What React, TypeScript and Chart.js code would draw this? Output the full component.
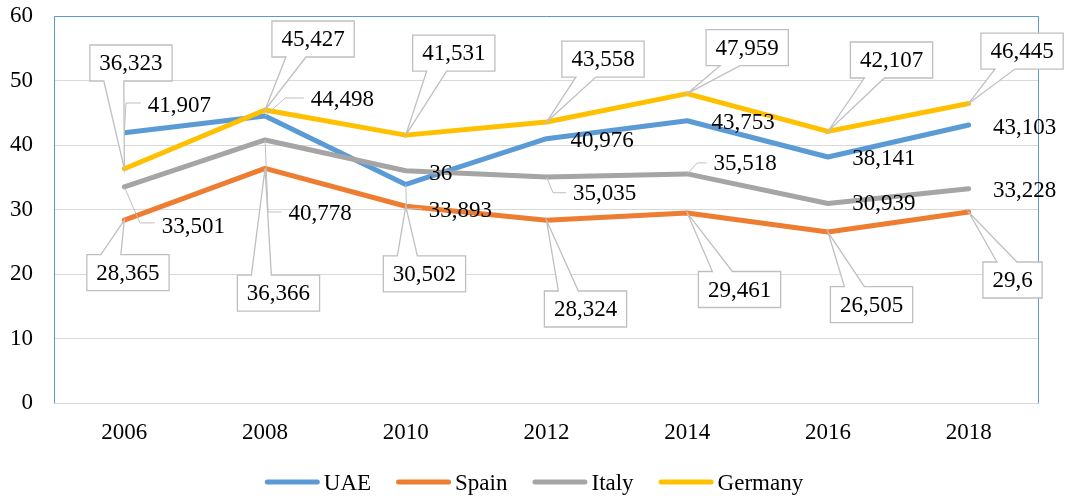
import React, { useEffect, useRef } from 'react';
import { Chart, registerables } from 'chart.js';

Chart.register(...registerables);

// ---- data ----
const years = ['2006', '2008', '2010', '2012', '2014', '2016', '2018'];
const uae = [41.907, 44.498, 33.893, 40.976, 43.753, 38.141, 43.103];
const spain = [28.365, 36.366, 30.502, 28.324, 29.461, 26.505, 29.6];
const italy = [33.501, 40.778, 36, 35.035, 35.518, 30.939, 33.228];
const germany = [36.323, 45.427, 41.531, 43.558, 47.959, 42.107, 46.445];
const seriesNames = ['UAE', 'Spain', 'Italy', 'Germany'];
const seriesColors = ['#5B9BD5', '#ED7D31', '#A5A5A5', '#FFC000'];
const yTicks = [0, 10, 20, 30, 40, 50, 60];

// ---- label layout (offsets relative to each point, styling only) ----
type Spec =
  | { k: 'plain'; dx: number; dy: number }
  | { k: 'lead'; ex: number; ey: number; dx: number; dy: number }
  | { k: 'box'; dx: number; dy: number };

const uaeLayout: Spec[] = [
  { k: 'lead', ex: 1.6, ey: -29.7, dx: 55, dy: -27.7 },
  { k: 'lead', ex: 20, ey: -18, dx: 77.4, dy: -17 },
  { k: 'lead', ex: 0.7, ey: 24, dx: 54.7, dy: 26 },
  { k: 'plain', dx: 55.5, dy: 1 },
  { k: 'plain', dx: 56, dy: 1 },
  { k: 'plain', dx: 56, dy: 1 },
  { k: 'plain', dx: 56, dy: 2 },
];
const spainLayout: Spec[] = [
  { k: 'box', dx: 3.6, dy: 52.5 },
  { k: 'box', dx: 13.4, dy: 124.6 },
  { k: 'box', dx: 18.7, dy: 67.7 },
  { k: 'box', dx: 39, dy: 88.7 },
  { k: 'box', dx: 52.3, dy: 76.5 },
  { k: 'box', dx: 43.6, dy: 72.5 },
  { k: 'box', dx: 43.9, dy: 67.9 },
];
const italyLayout: Spec[] = [
  { k: 'lead', ex: 15.6, ey: 36, dx: 69, dy: 39 },
  { k: 'lead', ex: 3, ey: 72, dx: 55, dy: 73 },
  { k: 'plain', dx: 35, dy: 2 },
  { k: 'lead', ex: 6.5, ey: 15.7, dx: 58, dy: 16 },
  { k: 'lead', ex: 10, ey: -11, dx: 58, dy: -11 },
  { k: 'plain', dx: 56, dy: 0 },
  { k: 'plain', dx: 56, dy: 1 },
];
const germanyLayout: Spec[] = [
  { k: 'box', dx: 6.6, dy: -105.7 },
  { k: 'box', dx: 48, dy: -71 },
  { k: 'box', dx: 48, dy: -82 },
  { k: 'box', dx: 56.5, dy: -63 },
  { k: 'box', dx: 60, dy: -46 },
  { k: 'box', dx: 63.6, dy: -71.4 },
  { k: 'box', dx: 53.4, dy: -52.4 },
];
const layouts = [uaeLayout, spainLayout, italyLayout, germanyLayout];

const FONT_FAMILY = '"Liberation Serif", "Times New Roman", serif';
const FONT_SIZE = 23;
const FONT = `${FONT_SIZE}px ${FONT_FAMILY}`;
const LEADER = '#BFBFBF';

const fmt = (v: number) => String(v).replace('.', ',');

const framePlugin = {
  id: 'frame',
  beforeDatasetsDraw(chart: any) {
    const { ctx, chartArea: a } = chart;
    const t = Math.round(a.top) + 0.5;
    const r = Math.round(a.right) - 0.5;
    const b = Math.round(a.bottom) + 0.5;
    const l = Math.round(a.left) + 0.5;
    ctx.save();
    ctx.strokeStyle = '#5B9BD5';
    ctx.lineWidth = 1;
    ctx.beginPath();
    ctx.moveTo(l, b);
    ctx.lineTo(l, t);
    ctx.lineTo(r, t);
    ctx.lineTo(r, b);
    ctx.stroke();
    ctx.strokeStyle = '#D9D9D9';
    ctx.beginPath();
    ctx.moveTo(l, b);
    ctx.lineTo(r, b);
    ctx.stroke();
    ctx.restore();
  },
};

const labelPlugin = {
  id: 'labels',
  afterDatasetsDraw(chart: any) {
    const { ctx } = chart;
    ctx.save();
    ctx.font = FONT;
    ctx.textAlign = 'center';
    ctx.textBaseline = 'middle';
    chart.data.datasets.forEach((ds: any, i: number) => {
      const meta = chart.getDatasetMeta(i);
      meta.data.forEach((pt: any, j: number) => {
        const spec = layouts[i][j];
        const text = fmt(ds.data[j]);
        const px = pt.x;
        const py = pt.y;
        const tw = ctx.measureText(text).width;
        const cx = px + spec.dx;
        const cy = py + spec.dy;
        ctx.lineWidth = 1;
        ctx.strokeStyle = LEADER;
        if (spec.k === 'lead') {
          const exx = px + spec.ex;
          const eyy = py + spec.ey;
          const endX = cx - tw / 2 - 7;
          ctx.beginPath();
          ctx.moveTo(px, py);
          ctx.lineTo(exx, eyy);
          ctx.lineTo(endX, eyy);
          ctx.stroke();
        } else if (spec.k === 'box') {
          const w = tw + 19;
          const h = 36;
          const L = cx - w / 2;
          const R = cx + w / 2;
          const T = cy - h / 2;
          const B = cy + h / 2;
          const w1 = L + 14;
          const w2 = L + 34;
          ctx.beginPath();
          if (py > B) {
            ctx.moveTo(L, T);
            ctx.lineTo(R, T);
            ctx.lineTo(R, B);
            ctx.lineTo(w2, B);
            ctx.lineTo(px, py);
            ctx.lineTo(w1, B);
            ctx.lineTo(L, B);
          } else {
            ctx.moveTo(L, T);
            ctx.lineTo(w1, T);
            ctx.lineTo(px, py);
            ctx.lineTo(w2, T);
            ctx.lineTo(R, T);
            ctx.lineTo(R, B);
            ctx.lineTo(L, B);
          }
          ctx.closePath();
          ctx.fillStyle = '#FFFFFF';
          ctx.fill();
          ctx.lineWidth = 1.3;
          ctx.stroke();
        }
        ctx.fillStyle = '#000000';
        ctx.fillText(text, cx, cy + 1);
      });
    });
    ctx.restore();
  },
};

const legendPlugin = {
  id: 'customLegend',
  afterDraw(chart: any) {
    const { ctx } = chart;
    ctx.save();
    ctx.font = FONT;
    ctx.textBaseline = 'middle';
    ctx.textAlign = 'left';
    const lineLen = 55;
    const gap = 4;
    const spacing = 25;
    const items = chart.data.datasets.map((ds: any) => ({
      label: ds.label,
      color: ds.borderColor,
      w: ctx.measureText(ds.label).width,
    }));
    const total =
      items.reduce((s: number, it: any) => s + lineLen + gap + it.w, 0) + spacing * (items.length - 1);
    let x = chart.width / 2 - total / 2;
    const y = chart.height - 15;
    items.forEach((it: any) => {
      ctx.strokeStyle = it.color;
      ctx.lineWidth = 5;
      ctx.lineCap = 'round';
      ctx.beginPath();
      ctx.moveTo(x + 2.5, y);
      ctx.lineTo(x + lineLen - 2.5, y);
      ctx.stroke();
      ctx.fillStyle = '#000000';
      ctx.fillText(it.label, x + lineLen + gap, y + 1.5);
      x += lineLen + gap + it.w + spacing;
    });
    ctx.restore();
  },
};

export default function App() {
  const ref = useRef<HTMLCanvasElement>(null);
  useEffect(() => {
    const canvas = ref.current;
    if (!canvas) return;
    const values = [uae, spain, italy, germany];
    const chart = new Chart(canvas, {
      type: 'line',
      data: {
        labels: years,
        datasets: values.map((vals, i) => ({
          label: seriesNames[i],
          data: vals,
          borderColor: seriesColors[i],
          backgroundColor: seriesColors[i],
          borderWidth: 5,
          pointRadius: 0,
          pointHoverRadius: 0,
          tension: 0,
          fill: false,
          borderCapStyle: 'round' as const,
          borderJoinStyle: 'round' as const,
          order: values.length - i,
        })),
      },
      options: {
        animation: false,
        responsive: true,
        maintainAspectRatio: false,
        layout: { padding: { left: 0, right: 29, top: 16, bottom: 0 } },
        plugins: {
          legend: { display: false },
          tooltip: { enabled: false },
        },
        scales: {
          x: {
            offset: true,
            grid: { display: false, drawTicks: false },
            border: { display: false },
            ticks: {
              color: '#000',
              font: { family: FONT_FAMILY, size: FONT_SIZE },
              padding: 16,
              maxRotation: 0,
            },
            afterFit: (s: any) => {
              s.height = 94;
              s.paddingLeft = 0;
              s.paddingRight = 0;
            },
          },
          y: {
            min: 0,
            max: 60,
            grid: { color: '#D9D9D9', lineWidth: 1, drawTicks: false },
            border: { display: false },
            ticks: {
              color: '#000',
              font: { family: FONT_FAMILY, size: FONT_SIZE },
              padding: 21,
              stepSize: 10,
            },
            afterBuildTicks: (s: any) => {
              s.ticks = yTicks.map((v) => ({ value: v }));
            },
            afterFit: (s: any) => {
              s.width = 54;
              s.paddingTop = 0;
              s.paddingBottom = 0;
            },
          },
        },
      },
      plugins: [framePlugin, labelPlugin, legendPlugin],
    } as any);
    return () => chart.destroy();
  }, []);
  return (
    <div style={{ position: 'fixed', left: 0, top: 0, width: 1068, height: 497, background: '#fff' }}>
      <canvas ref={ref} />
    </div>
  );
}
